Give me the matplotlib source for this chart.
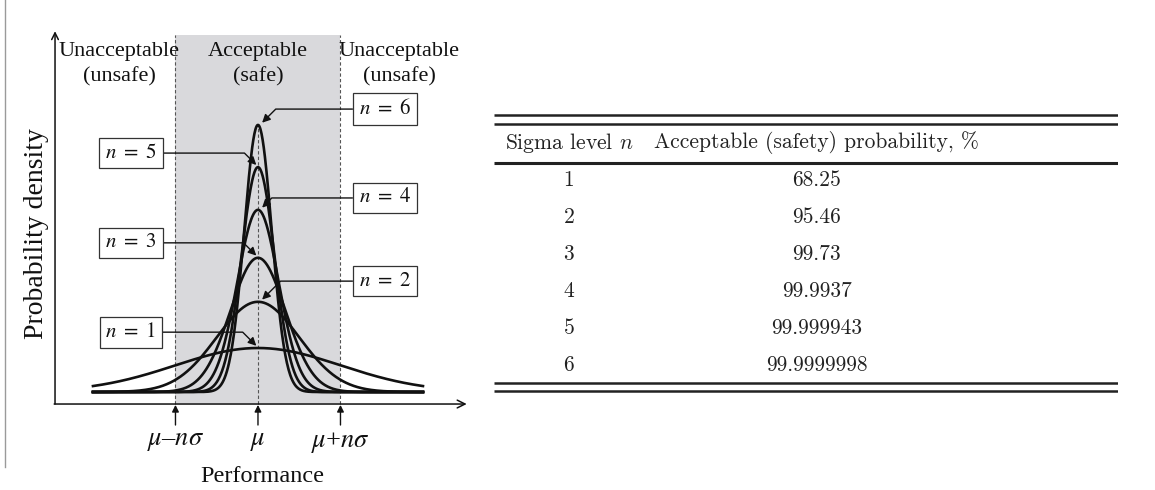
import numpy as np
import matplotlib
matplotlib.use("Agg")
import matplotlib.pyplot as plt
from matplotlib.lines import Line2D

plt.rcParams['font.family'] = ['Liberation Serif', 'DejaVu Serif']
plt.rcParams['mathtext.fontset'] = 'stix'

# sigma levels and the peak heights (in units of the n=1 peak)
sigma_levels = [1, 2, 3, 4, 5, 6]
peak_heights = [1.0, 2.05, 3.05, 4.14, 5.11, 6.07]
safety_prob = [68.25, 95.46, 99.73, 99.9937, 99.999943, 99.9999998]

region_labels = ["Unacceptable\n(unsafe)", "Acceptable\n(safe)", "Unacceptable\n(unsafe)"]
tick_labels = [r"$\mu$–$n\sigma$", r"$\mu$", r"$\mu$+$n\sigma$"]
col_headers = [r"Sigma level $n$", "Acceptable (safety) probability, %"]

fig = plt.figure(figsize=(11.55, 4.9), dpi=100)
ink = '#111111'

# ---------------- left: the diagram ----------------
ax = fig.add_axes([0, 0, 470 / 1155, 1])
ax.set_xlim(-3.127, 2.570)
ax.set_ylim(-2.227, 8.909)
ax.axis('off')

y_axis_x = -2.46
x_axis_y = -0.273

# acceptable band
ax.axvspan(-1, 1, ymin=(x_axis_y + 2.227) / 11.136, ymax=(8.11 + 2.227) / 11.136,
           color='#d9d9dc', lw=0, zorder=0)
for xv in (-1, 1):
    ax.plot([xv, xv], [x_axis_y, 8.11], ls=(0, (3, 2)), color='#555555', lw=0.8, zorder=1)
ax.plot([0, 0], [x_axis_y, peak_heights[-1]], ls=(0, (3, 2)), color='#555555', lw=0.8, zorder=1)

# axes arrows
ax.annotate('', xy=(y_axis_x, 8.2), xytext=(y_axis_x, x_axis_y),
            arrowprops=dict(arrowstyle='->', color=ink, lw=1.1, shrinkA=0, shrinkB=0,
                            mutation_scale=12))
ax.annotate('', xy=(2.53, x_axis_y), xytext=(y_axis_x - 0.01, x_axis_y),
            arrowprops=dict(arrowstyle='->', color=ink, lw=1.1, shrinkA=0, shrinkB=0,
                            mutation_scale=14))

# normal curves
x = np.linspace(-2, 2, 600)
for n, h in zip(sigma_levels, peak_heights):
    s = 1.0 / n
    ax.plot(x, h * np.exp(-x ** 2 / (2 * s ** 2)), color=ink, lw=1.9, zorder=3)

# region labels on top
for xc, lab in zip([-1.685, 0, 1.71], region_labels):
    ax.text(xc, 7.45, lab, ha='center', va='center', fontsize=16, linespacing=1.4, color=ink)

# labelled arrows to each peak
box_pos = [(-1.54, 1.36), (1.54, 2.52), (-1.54, 3.39), (1.54, 4.41), (-1.54, 5.43), (1.54, 6.43)]
for n, h, (bx, by) in zip(sigma_levels, peak_heights, box_pos):
    right = bx > 0
    tip = (0.05 if right else -0.02, h + 0.05)
    ax.annotate(r"$n\ =\ %d$" % n, xy=tip, xytext=(bx, by), ha='center', va='center',
                fontsize=15, color=ink, zorder=5,
                bbox=dict(boxstyle='square,pad=0.28', fc='white', ec='#333333', lw=0.9),
                arrowprops=dict(arrowstyle='-|>', color=ink, lw=1.0, mutation_scale=12,
                                shrinkA=0, shrinkB=0,
                                connectionstyle='angle,angleA=0,angleB=%d,rad=0' % (45 if right else 135)))

# ticks under the axis
for xv, lab in zip([-1, 0, 1], tick_labels):
    ax.annotate('', xy=(xv, x_axis_y - 0.02), xytext=(xv, -0.75),
                arrowprops=dict(arrowstyle='-|>', color=ink, lw=1.0, mutation_scale=10,
                                shrinkA=0, shrinkB=0))
    ax.text(xv, -1.14, lab, ha='center', va='center', fontsize=19, color=ink)

ax.text(0.05, -1.93, "Performance", ha='center', va='center', fontsize=17.5, color=ink)
ax.text(-2.69, 3.6, "Probability density", ha='center', va='center', rotation=90,
        fontsize=20, color=ink)

# thin frame line at the far left
fig.add_artist(Line2D([5 / 1155, 5 / 1155], [23 / 490, 1], color='#9a9a9a', lw=1.0))

# ---------------- right: the table ----------------
tx = fig.add_axes([494 / 1155, 90 / 490, 624 / 1155, 300 / 490])
tx.set_xlim(0, 1)
tx.set_ylim(6.946, -1.162)
tx.axis('off')

tcol = '#222222'
for yv, lw in [(-0.757, 1.8), (-0.514, 1.8), (0.54, 2.2), (6.486, 1.8), (6.70, 1.8)]:
    tx.plot([0, 1], [yv, yv], color=tcol, lw=lw, solid_capstyle='butt')

col_x = [0.12, 0.517]
for xc, head in zip(col_x, col_headers):
    tx.text(xc, 0, head, ha='center', va='center', fontsize=15.5, family='cmr10',
            math_fontfamily='cm', color=tcol)
for i, (n, p) in enumerate(zip(sigma_levels, safety_prob)):
    tx.text(col_x[0], i + 1, str(n), ha='center', va='center', fontsize=15.5,
            family='cmr10', color=tcol)
    tx.text(col_x[1], i + 1, str(p), ha='center', va='center', fontsize=15.5,
            family='cmr10', color=tcol)

fig.savefig("out.png", dpi=100, facecolor='white')
